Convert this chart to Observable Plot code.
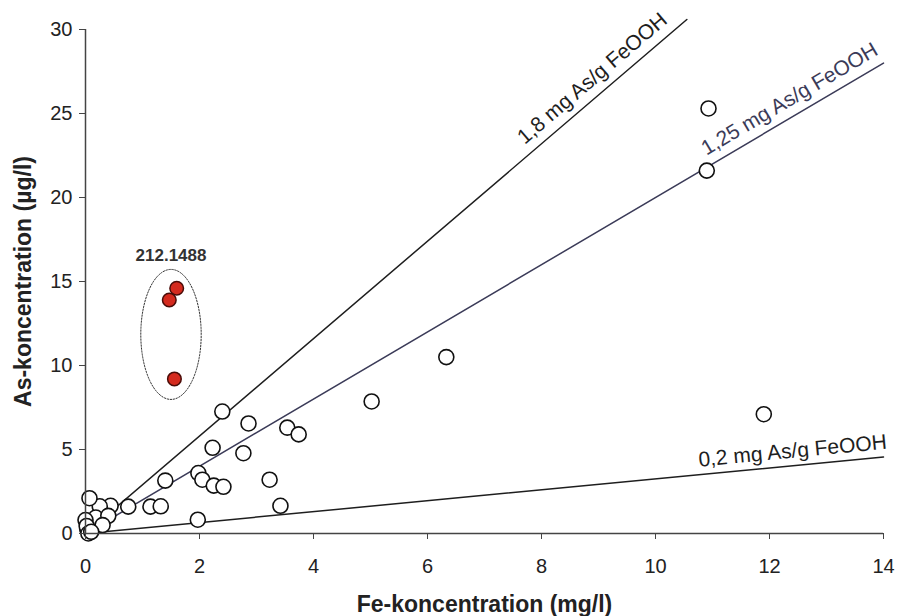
<!DOCTYPE html>
<html><head><meta charset="utf-8">
<script src="https://cdn.jsdelivr.net/npm/d3@7"></script>
<script src="https://cdn.jsdelivr.net/npm/@observablehq/plot@0.6"></script>
<style>
body{margin:0;background:#fff;}
svg{display:block;}
g[aria-label="x-axis label"] text, g[aria-label="y-axis label"] text {font-weight:bold;font-size:23px;fill:#222;}
</style>
</head><body><div id="chart"></div>
<script>
// Open circles: Fe (mg/l) and As (µg/l)
const feOpen = [10.93, 10.9, 11.9, 6.33, 5.02, 2.4, 2.86, 3.54, 3.74, 2.23, 2.77, 1.98, 2.05, 2.25, 2.42, 3.23, 3.42, 1.4, 1.14, 1.32, 0.75, 0.44, 0.25, 0.07, 1.97, 0.18, 0.4, 0.0, 0.03, 0.3, 0.02, 0.05, 0.1];
const asOpen = [25.3, 21.6, 7.1, 10.5, 7.86, 7.26, 6.55, 6.3, 5.9, 5.1, 4.78, 3.6, 3.2, 2.85, 2.78, 3.2, 1.65, 3.15, 1.6, 1.62, 1.6, 1.65, 1.62, 2.1, 0.82, 0.95, 1.05, 0.8, 0.25, 0.5, 0.45, 0.0, 0.1];
// Highlighted group 212.1488
const feRed = [1.60, 1.47, 1.56];
const asRed = [14.6, 13.9, 9.2];
const groupLabel = "212.1488";
const groupEllipse = {cx: 1.5, cy: 11.85, rx: 0.53, ry: 3.87};
// Reference lines (As/Fe ratio)
const lineLabels = ["1,8 mg As/g FeOOH", "1,25 mg As/g FeOOH", "0,2 mg As/g FeOOH"];
const lineSlopes = [2.9, 2.0, 0.325];
const lineEnds = [10.55, 14, 14];
const lineLabelX = [9.08, 12.5, 12.43];
const lineLabelGap = [10, 10, 8];
const lineColors = ["#1e1e1e", "#3b3b58", "#1e1e1e"];
// Ticks
const xTicks = [0, 2, 4, 6, 8, 10, 12, 14];
const yTicks = [0, 5, 10, 15, 20, 25, 30];
const xLabel = "Fe-koncentration (mg/l)";
const yLabel = "As-koncentration (µg/l)";

const W = 898, H = 616, ML = 85, MR = 15, MT = 29, MB = 83;
const xDom = [0, 14], yDom = [0, 30];
const pxX = (W - ML - MR) / (xDom[1] - xDom[0]);
const pxY = (H - MT - MB) / (yDom[1] - yDom[0]);

const openPts = feOpen.map((x, i) => ({x, y: asOpen[i]}));
const redPts = feRed.map((x, i) => ({x, y: asRed[i]}));
const refLines = lineSlopes.flatMap((s, i) => [
  {k: i, x: 0, y: 0, c: lineColors[i]},
  {k: i, x: lineEnds[i], y: s * lineEnds[i], c: lineColors[i]}
]);
const refLabels = lineSlopes.map((s, i) => {
  const phi = Math.atan(s * pxY / pxX);
  const gap = lineLabelGap[i];
  return {
    x: lineLabelX[i] - Math.sin(phi) * gap / pxX,
    y: s * lineLabelX[i] + Math.cos(phi) * gap / pxY,
    text: lineLabels[i], c: lineColors[i],
    rotate: -phi * 180 / Math.PI
  };
});
const ellipsePts = d3.range(0, 360, 3).map(a => {
  const t = a * Math.PI / 180;
  return {x: groupEllipse.cx + groupEllipse.rx * Math.cos(t), y: groupEllipse.cy + groupEllipse.ry * Math.sin(t)};
});
const groupLabelPos = [{x: groupEllipse.cx, y: groupEllipse.cy + groupEllipse.ry, text: groupLabel}];

const chart = Plot.plot({
  width: W, height: H,
  marginLeft: ML, marginRight: MR, marginTop: MT, marginBottom: MB,
  x: {domain: xDom},
  y: {domain: yDom},
  style: {fontFamily: "'Liberation Sans', Arial, sans-serif", background: "#fff", color: "#222"},
  marks: [
    Plot.line(refLines, {x: "x", y: "y", z: "k", stroke: "c", strokeWidth: 1.5}),
    Plot.text(refLabels, {x: "x", y: "y", text: "text", rotate: "rotate", fill: "c", fontSize: 21, lineAnchor: "bottom", textAnchor: "middle"}),
    Plot.line(ellipsePts, {x: "x", y: "y", curve: "linear-closed", stroke: "#333", strokeWidth: 1, strokeDasharray: "1.5,1.5"}),
    Plot.text(groupLabelPos, {x: "x", y: "y", text: "text", fontSize: 17, fontWeight: "bold", fill: "#333", lineAnchor: "bottom", dy: -8}),
    Plot.dot(openPts, {x: "x", y: "y", r: 7.5, fill: "#fff", stroke: "#111", strokeWidth: 1.6}),
    Plot.dot(redPts, {x: "x", y: "y", r: 6.8, fill: "#d42a1e", stroke: "#4a0c08", strokeWidth: 1.5}),
    Plot.ruleY([0], {stroke: "#444", strokeWidth: 1.5}),
    Plot.ruleX([0], {stroke: "#444", strokeWidth: 1.5}),
    Plot.axisX({ticks: xTicks, tickSize: 6, tickPadding: 19, fontSize: 20, stroke: "#444", label: xLabel, labelAnchor: "center", labelOffset: 78, labelArrow: false}),
    Plot.axisY({ticks: yTicks, tickSize: 6, tickPadding: 7, fontSize: 20, stroke: "#444", label: yLabel, labelAnchor: "center", labelOffset: 71, labelArrow: false})
  ]
});
document.getElementById("chart").append(chart);
</script>
</body></html>
